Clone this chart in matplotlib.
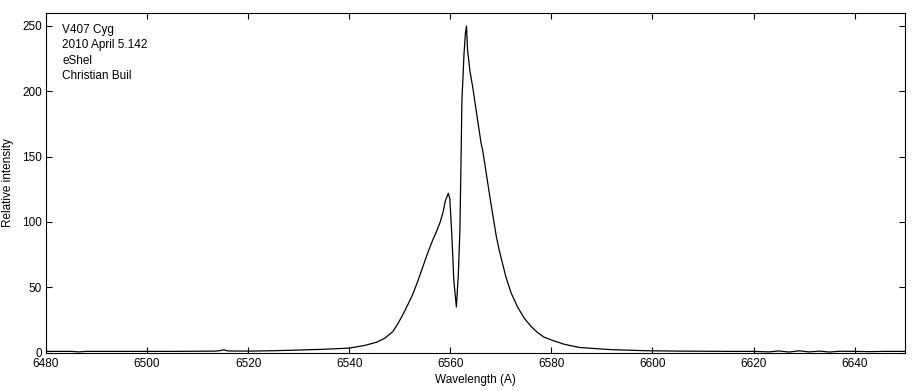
import matplotlib
matplotlib.use("Agg")
import matplotlib.pyplot as plt

# spectrum (wavelength in A, relative intensity)
wavelength = [6480, 6483, 6485, 6486.5, 6488, 6495, 6500, 6505, 6510, 6513.5, 6514.5,
              6515.2, 6516, 6520, 6525, 6530, 6535, 6540, 6543, 6545.4, 6547,
              6548.6, 6549.6, 6550.6, 6551.5, 6552.5, 6553.5, 6554.5, 6555.5, 6556.5,
              6557.3, 6558.0, 6558.6, 6559.0, 6559.6, 6559.9, 6560.3, 6560.7, 6561.2,
              6561.6, 6561.9, 6562.1, 6562.3, 6562.5, 6562.7, 6563.0, 6563.2, 6563.4,
              6563.9, 6564.4, 6565.4, 6566.1, 6566.4, 6567.4, 6568.0, 6569.1, 6569.7,
              6571.0, 6572.0, 6573.3, 6574.7, 6576.0, 6577.2, 6578.5, 6580.0, 6582.5,
              6585.5, 6590, 6592, 6598.7, 6605, 6615, 6620, 6623, 6625, 6627, 6629,
              6631, 6633, 6635, 6637, 6640, 6643, 6646, 6650]
intensity = [1.0, 1.0, 1.0, 0.6, 1.0, 1.0, 1.0, 1.0, 1.1, 1.2, 1.6,
             2.2, 1.3, 1.2, 1.5, 2.0, 2.6, 3.5, 5.5, 8.0, 11.0,
             16.0, 22.0, 29.0, 36.0, 44.0, 54.0, 65.0, 76.0, 86.0,
             93.0, 100.0, 108.0, 116.0, 122.0, 118.0, 90.0, 55.0, 35.0,
             61.0, 94.0, 142.0, 194.0, 210.0, 228.0, 245.0, 250.0, 232.0,
             215.0, 204.0, 178.0, 160.0, 155.0, 130.0, 115.0, 89.0, 78.0,
             58.0, 46.0, 35.0, 26.0, 20.0, 15.6, 12.0, 9.7, 6.5,
             4.0, 2.8, 2.3, 1.5, 1.2, 1.0, 1.0, 0.6, 1.3, 0.5, 1.4,
             0.6, 1.2, 0.5, 1.1, 1.0, 0.8, 1.0, 1.0]

x_ticks = list(range(6480, 6641, 20))
y_ticks = list(range(0, 251, 50))
info_lines = ["V407 Cyg", "2010 April 5.142", "eShel", "Christian Buil"]

plt.rcParams['font.family'] = ['Liberation Sans', 'DejaVu Sans']

fig = plt.figure(figsize=(9.19, 3.91), dpi=100)
ax = fig.add_axes([0.050, 0.098, 0.935, 0.869])
ax.plot(wavelength, intensity, color='black', linewidth=0.9)

ax.set_xlim(6480, 6650)
ax.set_ylim(0, 260)
ax.set_xticks(x_ticks)
ax.set_yticks(y_ticks)
ax.tick_params(direction='in', length=4, width=0.8, labelsize=8.5,
               top=True, right=True)
ax.tick_params(axis='x', pad=4)
ax.tick_params(axis='y', pad=3)
for s in ax.spines.values():
    s.set_linewidth(0.8)

ax.set_xlabel('Wavelength (A)', fontsize=8.5, labelpad=3)
ax.set_ylabel('Relative intensity', fontsize=8.5, labelpad=6)

for i, line in enumerate(info_lines):
    ax.text(0.019, 0.95 - i * 0.0455, line, transform=ax.transAxes,
            fontsize=8.5, va='center', ha='left')

fig.savefig('out.png', dpi=100)
